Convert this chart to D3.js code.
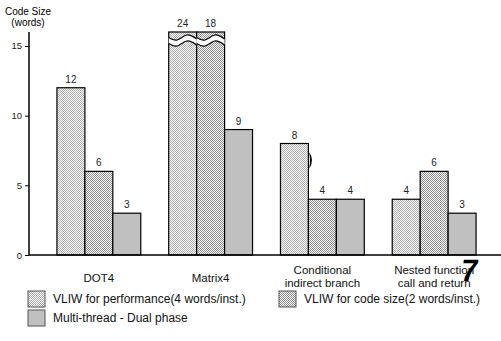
<!DOCTYPE html>
<html>
<head>
<meta charset="utf-8">
<script src="https://cdn.jsdelivr.net/npm/d3@7"></script>
<style>
  body { margin: 0; background: #fff; }
  svg { display: block; font-family: "Liberation Sans", Arial, sans-serif; }
</style>
</head>
<body>
<div id="chart"></div>
<script>
const categories = [['DOT4'], ['Matrix4'], ['Conditional', 'indirect branch'], ['Nested function', 'call and return']];
const vliwPerf = [12, 24, 8, 4];
const vliwSize = [6, 18, 4, 6];
const multiThread = [3, 9, 4, 3];
const seriesNames = ['VLIW for performance(4 words/inst.)', 'VLIW for code size(2 words/inst.)', 'Multi-thread - Dual phase'];
const yTicks = [0, 5, 10, 15];
const yMax = 16; // bars above this get the broken-axis wave

const width = 501;
const height = 341;
const padding = {top: 32, right: 0, bottom: 86, left: 29};

const series = [vliwPerf, vliwSize, multiThread];
const fills = ['url(#pat1)', 'url(#pat2)', '#c0c0c0'];

const svg = d3.select('#chart')
    .append('svg')
    .attr('width', width)
    .attr('height', height);

// checker patterns for the two VLIW series
const defs = svg.append('defs');
function checker(id, dark) {
    const p = defs.append('pattern')
        .attr('id', id)
        .attr('patternUnits', 'userSpaceOnUse')
        .attr('width', 2)
        .attr('height', 2);
    p.append('rect').attr('width', 2).attr('height', 2).attr('fill', '#fff');
    p.append('rect').attr('width', 1).attr('height', 1).attr('fill', dark);
    p.append('rect').attr('x', 1).attr('y', 1).attr('width', 1).attr('height', 1).attr('fill', dark);
}
checker('pat1', '#acacac');
checker('pat2', '#8a8a8a');

const x0 = d3.scaleBand()
    .domain(d3.range(categories.length))
    .range([padding.left, 504])
    .paddingInner(0.25)
    .paddingOuter(0.25);

const x1 = d3.scaleBand()
    .domain(d3.range(series.length))
    .range([0, x0.bandwidth()]);

const y = d3.scaleLinear()
    .domain([0, yMax])
    .range([height - padding.bottom, padding.top]);

// bars
series.forEach(function (values, s) {
    svg.append('g')
        .selectAll('rect')
        .data(values)
        .enter()
        .append('rect')
        .attr('x', (d, i) => x0(i) + x1(s))
        .attr('y', d => y(Math.min(d, yMax)))
        .attr('width', x1.bandwidth())
        .attr('height', d => y(0) - y(Math.min(d, yMax)))
        .attr('fill', fills[s])
        .attr('stroke', '#000')
        .attr('stroke-width', 1.2);

    svg.append('g')
        .selectAll('text')
        .data(values)
        .enter()
        .append('text')
        .attr('x', (d, i) => x0(i) + x1(s) + x1.bandwidth() / 2)
        .attr('y', d => y(Math.min(d, yMax)) - 5)
        .attr('text-anchor', 'middle')
        .attr('font-size', 10)
        .attr('fill', '#222')
        .text(d => d);
});

// wave break on bars that go off the scale
const waveFrac = [0, 0.3, 0.65, 1];
const waveDy = [0, 2.5, -2.5, 1.5];
series.forEach(function (values, s) {
    values.forEach(function (v, i) {
        if (v <= yMax) return;
        const bx = x0(i) + x1(s);
        const bw = x1.bandwidth();
        const top = y(yMax);
        const pts = waveFrac.map((f, k) => [bx + f * bw, top + 5.5 + waveDy[k]]);
        const area = d3.area()
            .curve(d3.curveNatural)
            .x(d => d[0])
            .y0(d => d[1])
            .y1(d => d[1] + 6);
        const line = d3.line().curve(d3.curveNatural);
        svg.append('path')
            .attr('d', area(pts))
            .attr('fill', '#fff');
        svg.append('path')
            .attr('d', line(pts))
            .attr('fill', 'none')
            .attr('stroke', '#000')
            .attr('stroke-width', 1.2);
        svg.append('path')
            .attr('d', line(pts.map(p => [p[0], p[1] + 6])))
            .attr('fill', 'none')
            .attr('stroke', '#000')
            .attr('stroke-width', 1.2);
    });
});

// y axis
const yAxis = d3.axisLeft(y).tickValues(yTicks).tickSize(4).tickPadding(3);
const gy = svg.append('g')
    .attr('transform', `translate(${padding.left},0)`)
    .call(yAxis);
gy.select('.domain').attr('d', `M0,${y(0)}V${y(yMax)}`).attr('stroke-width', 1.5);
gy.selectAll('text').attr('font-size', 9.5).attr('font-family', 'Liberation Sans, Arial, sans-serif').attr('fill', '#222');

// x axis line
svg.append('line')
    .attr('x1', padding.left)
    .attr('x2', width)
    .attr('y1', y(0))
    .attr('y2', y(0))
    .attr('stroke', '#000')
    .attr('stroke-width', 1.5);

// axis title
svg.append('text')
    .attr('x', 28).attr('y', 15)
    .attr('text-anchor', 'middle')
    .attr('font-size', 10)
    .text('Code Size');
svg.append('text')
    .attr('x', 28).attr('y', 26)
    .attr('text-anchor', 'middle')
    .attr('font-size', 10)
    .text('(words)');

// category labels
categories.forEach(function (lines, i) {
    const cx = x0(i) + x0.bandwidth() / 2;
    const startY = lines.length === 1 ? 282 : 274;
    lines.forEach(function (t, k) {
        svg.append('text')
            .attr('x', cx)
            .attr('y', startY + k * 13)
            .attr('text-anchor', 'middle')
            .attr('font-size', 11.5)
            .attr('fill', '#111')
            .text(t);
    });
});

// legend
const legendPos = [[28, 291], [279, 291], [28, 310]];
seriesNames.forEach(function (name, s) {
    const g = svg.append('g').attr('transform', `translate(${legendPos[s][0]},${legendPos[s][1]})`);
    g.append('rect')
        .attr('width', 17)
        .attr('height', 16)
        .attr('fill', fills[s])
        .attr('stroke', '#555')
        .attr('stroke-width', 1);
    g.append('text')
        .attr('x', 25)
        .attr('y', 12)
        .attr('font-size', 12)
        .attr('fill', '#111')
        .text(name);
});

// scan marks present in the source figure
svg.append('path')
    .attr('d', 'M309,152 Q315,160 309,169 Q311,160 309,152 Z')
    .attr('fill', '#000');
svg.append('text')
    .attr('transform', 'translate(468,281) skewX(-8)')
    .attr('text-anchor', 'middle')
    .attr('font-size', 31)
    .attr('font-weight', 'bold')
    .text('7');
</script>
</body>
</html>
